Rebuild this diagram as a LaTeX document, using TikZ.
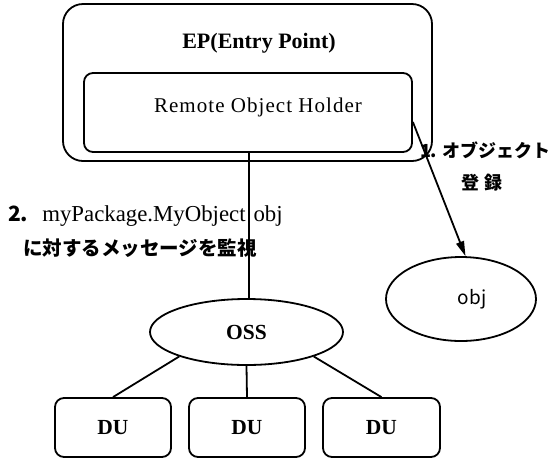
\documentclass[tikz,border=0pt]{standalone}
\usepackage{fontspec}
\setmainfont{Liberation Serif}
\newfontfamily\jp{Noto Sans CJK JP}
\newfontfamily\spaced{Liberation Serif}[LetterSpace=5]
\usetikzlibrary{shapes.geometric,arrows.meta,calc}
\begin{document}
\begin{tikzpicture}[x=1pt,y=-1pt,
  box/.style={draw,line width=1.8pt,rounded corners=9pt,inner sep=0pt},
  ell/.style={draw,ellipse,line width=1.8pt,inner sep=0pt},
  conn/.style={line width=1.8pt},
  serifb/.style={font=\bfseries\fontsize{21.5}{24}\selectfont},
  jpb/.style={font=\jp\bfseries\fontsize{19.5}{22}\selectfont, inner sep=0pt}]
\useasboundingbox (0,0) rectangle (552,459);
% boxes
\node[box, rounded corners=20pt, minimum width=369pt, minimum height=157pt] (ep) at (247.5,82.5) {};
\node[box, minimum width=328pt, minimum height=79pt] (inner) at (248,112.5) {};
\node[font=\bfseries\fontsize{22}{24}\selectfont] (eplabel) at (259,43) {EP(Entry Point)};
\node[font=\spaced\fontsize{21}{24}\selectfont] (rohlabel) at (258,107) {Remote Object Holder};
% OSS and DUs
\node[ell, minimum width=193pt, minimum height=66pt, serifb] (oss) at (246.5,332) {OSS};
\node[box, serifb, minimum width=116pt, minimum height=59pt] (du1) at (113,427.5) {\raisebox{-3pt}{DU}};
\node[box, serifb, minimum width=116pt, minimum height=59pt] (du2) at (247,427.5) {\raisebox{-3pt}{DU}};
\node[box, serifb, minimum width=117pt, minimum height=59pt] (du3) at (381.5,427.5) {\raisebox{-3pt}{DU}};
% obj
\node[ell, minimum width=150pt, minimum height=84pt, font=\jp\fontsize{19}{22}\selectfont] (obj) at (461,299) {\hspace{22pt}obj};
% labels
\node[anchor=west, inner sep=0pt, font=\fontsize{22.8}{26}\selectfont] (l2a) at (8,216) {{\jp\bfseries\fontsize{21}{24}\selectfont 2.}\hspace{14pt}myPackage.MyObject\hspace{8pt}obj};
\node[jpb, anchor=west] (l2b) at (23,248) {に対するメッセージを監視};
\node[jpb, anchor=east, font=\jp\bfseries\fontsize{18}{22}\selectfont] (l1a) at (551,150) {1. オブジェクト};
\node[jpb, font=\jp\bfseries\fontsize{18}{22}\selectfont] (l1b) at (482,183) {登\hspace{6pt}録};
% connectors
\draw[conn] ([xshift=2.5pt]oss.north |- inner.south) -- ([xshift=2.5pt]oss.north);
\draw[conn] (oss.200) -- (du1.north);
\draw[conn] (oss.south) -- (du2.north);
\draw[conn] (oss.-20) -- (du3.north);
\draw[conn, -{Triangle[length=15pt,width=8pt]}] ([yshift=-9.5pt]inner.east) -- (obj.84);
\end{tikzpicture}
\end{document}
